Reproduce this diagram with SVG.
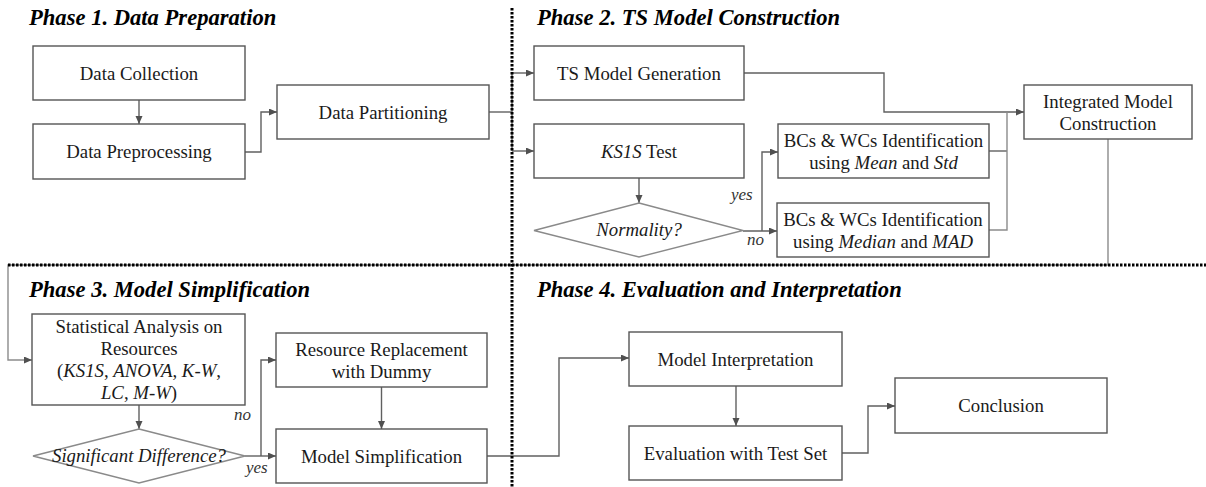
<svg xmlns="http://www.w3.org/2000/svg" width="1206" height="487" viewBox="0 0 1206 487" font-family="Liberation Serif, Times New Roman, serif">
<style>
text{font-size:18.8px;fill:#1a1a1a}
.t{text-anchor:middle}
.title{font-size:22.6px;font-weight:bold;font-style:italic;fill:#000}
.i{font-style:italic}
.lab{font-style:italic;font-size:17px;fill:#333}
.box{fill:#fff;stroke:#555;stroke-width:1.4}
.dia{fill:#fff;stroke:#8a8a8a;stroke-width:1.4}
.c{fill:none;stroke:#606060;stroke-width:1.4}
.cl{fill:none;stroke:#8c8c8c;stroke-width:1.4}
.sep{fill:none;stroke:#000;stroke-width:3;stroke-dasharray:2.5 1.5}
</style>
<defs>
<marker id="a" markerUnits="userSpaceOnUse" markerWidth="9" markerHeight="8" refX="8" refY="3.5" orient="auto">
<path d="M0,0 L8,3.5 L0,7 z" fill="#505050"/>
</marker>
</defs>
<rect width="1206" height="487" fill="#fff"/>
<g id="connectors">
<path class="c" d="M139,100 V124" marker-end="url(#a)"/>
<path class="c" d="M245,152 H261 V112 H277" marker-end="url(#a)"/>
<path class="c" d="M489,112 H512"/>
<path class="c" d="M512,73 V151"/>
<path class="c" d="M512,73 H534" marker-end="url(#a)"/>
<path class="c" d="M512,151 H534" marker-end="url(#a)"/>
<path class="c" d="M639,178 V203" marker-end="url(#a)"/>
<path class="c" d="M743,231 H777" marker-end="url(#a)"/>
<path class="c" d="M762,231 V152 H778" marker-end="url(#a)"/>
<path class="c" d="M744,73 H884 V112 H1024" marker-end="url(#a)"/>
<path class="c" d="M989,151 H1007"/>
<path class="cl" d="M989,230 H1007 V112"/>
<path class="cl" d="M1108,139 V265 H8 V360 H32" marker-end="url(#a)"/>
<path class="c" d="M139,405 V429" marker-end="url(#a)"/>
<path class="c" d="M245,456 H276" marker-end="url(#a)"/>
<path class="c" d="M261,456 V360 H276" marker-end="url(#a)"/>
<path class="c" d="M381.5,387 V429" marker-end="url(#a)"/>
<path class="c" d="M487,456 H559 V358 H629" marker-end="url(#a)"/>
<path class="c" d="M736,386 V426" marker-end="url(#a)"/>
<path class="c" d="M842,453 H868 V406 H895" marker-end="url(#a)"/>
</g>
<g id="separators">
<path class="sep" d="M512,8 V487"/>
<path class="sep" d="M8,265 H1206"/>
</g>
<g id="titles">
<text class="title" x="29" y="25">Phase 1. Data Preparation</text>
<text class="title" x="537" y="25">Phase 2. TS Model Construction</text>
<text class="title" x="29" y="297">Phase 3. Model Simplification</text>
<text class="title" x="537" y="297">Phase 4. Evaluation and Interpretation</text>
</g>
<g id="data-collection">
<rect class="box" x="33" y="46" width="212" height="54"/>
<text class="t" x="139" y="79.5">Data Collection</text>
</g>
<g id="data-preprocessing">
<rect class="box" x="33" y="124" width="212" height="55"/>
<text class="t" x="139" y="158">Data Preprocessing</text>
</g>
<g id="data-partitioning">
<rect class="box" x="277" y="85" width="212" height="54"/>
<text class="t" x="383" y="118.5">Data Partitioning</text>
</g>
<g id="ts-model-generation">
<rect class="box" x="534" y="46" width="210" height="54"/>
<text class="t" x="639" y="79.5">TS Model Generation</text>
</g>
<g id="ks1s-test">
<rect class="box" x="534" y="124" width="210" height="54"/>
<text class="t" x="639" y="157.5"><tspan class="i">KS1S</tspan> Test</text>
</g>
<g id="normality">
<polygon class="dia" points="639,203 743,230.5 639,257 534,230.5"/>
<text class="t i" x="639" y="235.5">Normality?</text>
</g>
<g id="labels-normality">
<text class="lab" x="731" y="200">yes</text>
<text class="lab" x="747" y="245">no</text>
</g>
<g id="bcs-mean">
<rect class="box" x="778" y="124" width="211" height="54"/>
<text class="t" x="883.5" y="146.5">BCs &amp; WCs Identification</text>
<text class="t" x="883.5" y="168.5">using <tspan class="i">Mean</tspan> and <tspan class="i">Std</tspan></text>
</g>
<g id="bcs-median">
<rect class="box" x="777" y="203" width="212" height="54"/>
<text class="t" x="883" y="225.5">BCs &amp; WCs Identification</text>
<text class="t" x="883" y="247.5">using <tspan class="i">Median</tspan> and <tspan class="i">MAD</tspan></text>
</g>
<g id="integrated-model">
<rect class="box" x="1024" y="85" width="168" height="54"/>
<text class="t" x="1108" y="107.5">Integrated Model</text>
<text class="t" x="1108" y="129.5">Construction</text>
</g>
<g id="statistical-analysis">
<rect class="box" x="32" y="314" width="213" height="91"/>
<text class="t" x="139" y="333">Statistical Analysis on</text>
<text class="t" x="139" y="355">Resources</text>
<text class="t" x="139" y="377">(<tspan class="i">KS1S</tspan>, <tspan class="i">ANOVA</tspan>, <tspan class="i">K-W</tspan>,</text>
<text class="t" x="139" y="399"><tspan class="i">LC</tspan>, <tspan class="i">M-W</tspan>)</text>
</g>
<g id="significant-difference">
<polygon class="dia" points="139,429 245,456 139,483 33,456"/>
<text class="t i" x="139" y="461.5">Significant Difference?</text>
</g>
<g id="labels-significant">
<text class="lab" x="234" y="420">no</text>
<text class="lab" x="246" y="473">yes</text>
</g>
<g id="resource-replacement">
<rect class="box" x="276" y="333" width="211" height="54"/>
<text class="t" x="381.5" y="355.5">Resource Replacement</text>
<text class="t" x="381.5" y="377.5">with Dummy</text>
</g>
<g id="model-simplification">
<rect class="box" x="276" y="429" width="211" height="54"/>
<text class="t" x="381.5" y="462.5">Model Simplification</text>
</g>
<g id="model-interpretation">
<rect class="box" x="629" y="332" width="213" height="54"/>
<text class="t" x="735.5" y="365.5">Model Interpretation</text>
</g>
<g id="evaluation">
<rect class="box" x="629" y="426" width="213" height="54"/>
<text class="t" x="735.5" y="459.5">Evaluation with Test Set</text>
</g>
<g id="conclusion">
<rect class="box" x="895" y="378" width="212" height="55"/>
<text class="t" x="1001" y="412">Conclusion</text>
</g>
</svg>
